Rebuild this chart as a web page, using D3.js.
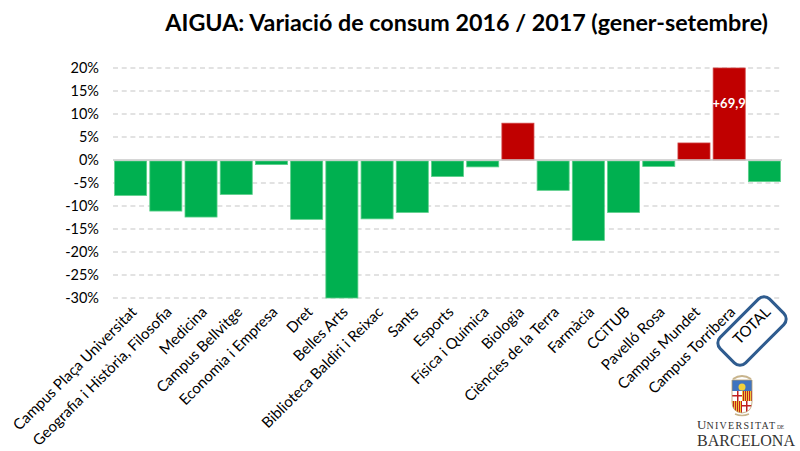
<!DOCTYPE html>
<html><head><meta charset="utf-8">
<script src="https://cdn.jsdelivr.net/npm/d3@7"></script>
<style>body{margin:0;background:#fff} svg{display:block}</style>
</head><body>
<svg id="c" width="800" height="451"></svg>
<script>
const title = "AIGUA: Variació de consum 2016 / 2017 (gener-setembre)";
const categories = ["Campus Plaça Universitat","Geografia i Història, Filosofia","Medicina","Campus Bellvitge","Economia i Empresa","Dret","Belles Arts","Biblioteca Baldiri i Reixac","Sants","Esports","Física i Química","Biologia","Ciències de la Terra","Farmàcia","CCiTUB","Pavelló Rosa","Campus Mundet","Campus Torribera","TOTAL"];
const values = [-7.7,-11.1,-12.4,-7.5,-1.0,-12.9,-30.0,-12.8,-11.4,-3.6,-1.5,8.0,-6.6,-17.5,-11.4,-1.4,3.7,69.9,-4.7];
const valueLabels = ["","","","","","","","","","","","","","","","","","+69,9",""];
const yTicks = [20,15,10,5,0,-5,-10,-15,-20,-25,-30];
const yDomain = [-30,20];
const colorUp = "#C00000", colorDown = "#00B050";
const FONT = "Lato, 'Open Sans', sans-serif";
const SERIF = "'Liberation Serif', 'DejaVu Serif', serif";

const svg = d3.select("#c");
const x = d3.scaleBand().domain(categories).range([113,782]).paddingInner(0.09).paddingOuter(0.045);
const y = d3.scaleLinear().domain(yDomain).range([298,68]).clamp(true);

// title
const t = svg.append("text").attr("x",768).attr("y",31).attr("text-anchor","end")
  .attr("font-family",FONT).attr("font-weight","bold").attr("font-size",22).attr("fill","#000").text(title);
const tw = t.node().getComputedTextLength();
t.attr("font-size", 22*603/tw);

// gridlines
svg.append("g").selectAll("line").data(yTicks.filter(d=>d!==0)).join("line")
  .attr("x1",113).attr("x2",782).attr("y1",d=>y(d)).attr("y2",d=>y(d))
  .attr("stroke","#D9D9D9").attr("stroke-width",1.5).attr("stroke-dasharray","5,3.7");

// y axis
const ya = svg.append("g").attr("transform","translate(101,0)")
  .call(d3.axisLeft(y).tickValues(yTicks).tickSize(0).tickPadding(2).tickFormat(d=>d+"%"));
ya.select(".domain").remove();
ya.selectAll("text").attr("font-family",FONT).attr("font-size",14.5).attr("fill","#000");

// bars
svg.append("g").selectAll("rect").data(values).join("rect")
  .attr("x",(d,i)=>x(categories[i]))
  .attr("width",x.bandwidth())
  .attr("y",d=>d>=0?y(d):y(0)+1)
  .attr("height",d=>d>=0?y(0)-y(d):y(d)-y(0)-1)
  .attr("fill",d=>d>=0?colorUp:colorDown)
  .attr("stroke",d=>d>=0?"#D04040":"#5ccf8a").attr("stroke-width",0.8);

// zero line
svg.append("line").attr("x1",113).attr("x2",782).attr("y1",y(0)).attr("y2",y(0))
  .attr("stroke","#C8C8C8").attr("stroke-width",1.5);

// value labels
svg.append("g").selectAll("text").data(values).join("text")
  .attr("x",(d,i)=>x(categories[i])+x.bandwidth()/2)
  .attr("y",108).attr("text-anchor","middle")
  .attr("font-family",FONT).attr("font-weight","bold").attr("font-size",13).attr("fill","#fff")
  .text((d,i)=>valueLabels[i]);

// x axis labels
const xa = svg.append("g").attr("transform","translate(0,300)")
  .call(d3.axisBottom(x).tickSize(0).tickPadding(0));
xa.select(".domain").remove();
xa.selectAll("text")
  .attr("font-family",FONT).attr("font-size",15).attr("fill","#000")
  .attr("text-anchor","end").attr("dy",0)
  .attr("transform","translate(7,13) rotate(-45)");

// TOTAL box
svg.append("rect").attr("x",-35).attr("y",-18).attr("width",70).attr("height",36).attr("rx",8)
  .attr("transform","translate(752,331) rotate(-45)")
  .attr("fill","none").attr("stroke","#2F5C8F").attr("stroke-width",3);

// logo
const lg = svg.append("g");
const shieldPath = "M732,380 L752,380 L752,402 Q752,412 742,413 Q732,412 732,402 Z";
const defs = svg.append("defs");
defs.append("clipPath").attr("id","sh").append("path").attr("d",shieldPath);
lg.append("path").attr("d","M733,379 Q742,373 751,379").attr("fill","none").attr("stroke","#c8b48c").attr("stroke-width",2);
const sg = lg.append("g").attr("clip-path","url(#sh)");
sg.append("rect").attr("x",732).attr("y",380).attr("width",20).attr("height",11).attr("fill","#3f74c0");
sg.append("circle").attr("cx",742).attr("cy",387).attr("r",3.5).attr("fill","#f2d13a");
sg.append("rect").attr("x",732).attr("y",391).attr("width",20).attr("height",22).attr("fill","#fff");
sg.append("rect").attr("x",737).attr("y",391).attr("width",1.5).attr("height",10).attr("fill","#c02020");
sg.append("rect").attr("x",732).attr("y",395).attr("width",10).attr("height",1.5).attr("fill","#c02020");
sg.append("rect").attr("x",742).attr("y",391).attr("width",10).attr("height",10).attr("fill","#f0c838");
[743,745,747,749,751].forEach(v=>sg.append("rect").attr("x",v).attr("y",391).attr("width",1).attr("height",10).attr("fill","#c02020"));
sg.append("rect").attr("x",732).attr("y",401).attr("width",10).attr("height",13).attr("fill","#f0c838");
[733,735,737,739,741].forEach(v=>sg.append("rect").attr("x",v).attr("y",401).attr("width",1).attr("height",13).attr("fill","#c02020"));
sg.append("rect").attr("x",746).attr("y",401).attr("width",1.5).attr("height",13).attr("fill","#c02020");
sg.append("rect").attr("x",742).attr("y",405).attr("width",10).attr("height",1.5).attr("fill","#c02020");
lg.append("path").attr("d",shieldPath).attr("fill","none").attr("stroke","#b8a070").attr("stroke-width",0.8);
lg.append("path").attr("d","M735,414 Q742,417 749,414").attr("fill","none").attr("stroke","#c8b48c").attr("stroke-width",1.5);

const u = lg.append("text").attr("x",697).attr("y",429).attr("font-family",SERIF).attr("fill","#333");
u.append("tspan").attr("font-size",13).text("U");
u.append("tspan").attr("font-size",10).attr("letter-spacing",1.3).text("NIVERSITAT");
u.append("tspan").attr("font-size",5.5).attr("dx",0.5).text("DE");
const b = lg.append("text").attr("x",697).attr("y",446).attr("font-family",SERIF)
  .attr("font-size",16).attr("fill","#333").text("BARCELONA");
b.attr("textLength",98).attr("lengthAdjust","spacingAndGlyphs");
</script>
</body></html>
